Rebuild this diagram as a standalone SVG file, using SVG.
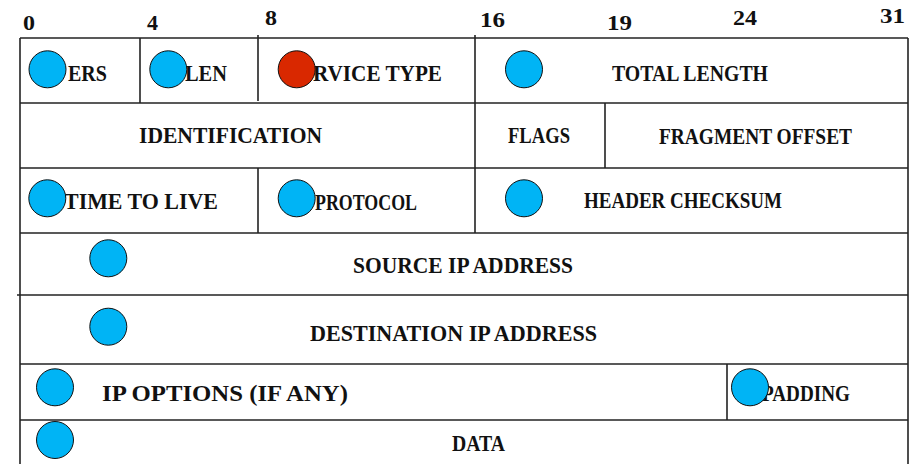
<svg xmlns="http://www.w3.org/2000/svg" width="909" height="464" viewBox="0 0 909 464">
<style>
  .grid line { stroke: #222; stroke-width: 1.6; }
  .lbl { font-family: "Liberation Serif", "Times New Roman", serif; font-weight: bold; font-size: 22.5px; fill: #111; }
  .bit { font-family: "Liberation Serif", "Times New Roman", serif; font-weight: bold; font-size: 22px; fill: #111; }
  .dot { fill: #00B4F5; stroke: #111; stroke-width: 1; }
  .dot.red { fill: #D92800; }
</style>
<rect width="909" height="464" fill="#fff"/>

<g id="bit-numbers">
  <text class="bit" x="23" y="30" textLength="12" lengthAdjust="spacingAndGlyphs">0</text>
  <text class="bit" x="147" y="30" textLength="11" lengthAdjust="spacingAndGlyphs">4</text>
  <text class="bit" x="265" y="25" textLength="12" lengthAdjust="spacingAndGlyphs">8</text>
  <text class="bit" x="480" y="27" textLength="25" lengthAdjust="spacingAndGlyphs">16</text>
  <text class="bit" x="607" y="30" textLength="25" lengthAdjust="spacingAndGlyphs">19</text>
  <text class="bit" x="733" y="25" textLength="24" lengthAdjust="spacingAndGlyphs">24</text>
  <text class="bit" x="880" y="23" textLength="25" lengthAdjust="spacingAndGlyphs">31</text>
</g>

<g class="grid" id="grid">
  <line x1="20" y1="38" x2="908" y2="38"/>
  <line x1="20" y1="103" x2="908" y2="103"/>
  <line x1="20" y1="168" x2="908" y2="168"/>
  <line x1="20" y1="233" x2="908" y2="233"/>
  <line x1="17" y1="295" x2="908" y2="295"/>
  <line x1="20" y1="364" x2="908" y2="364"/>
  <line x1="20" y1="420" x2="908" y2="420"/>
  <line x1="20" y1="38" x2="20" y2="464"/>
  <line x1="908" y1="38" x2="908" y2="464"/>
  <line x1="140" y1="38" x2="140" y2="103"/>
  <line x1="258" y1="35" x2="258" y2="101"/>
  <line x1="258" y1="168" x2="258" y2="233"/>
  <line x1="475" y1="35" x2="475" y2="233"/>
  <line x1="605" y1="103" x2="605" y2="168"/>
  <line x1="727" y1="364" x2="727" y2="420"/>
</g>

<g id="field-version">
  <text class="lbl" x="68" y="81" textLength="39" lengthAdjust="spacingAndGlyphs">ERS</text>
  <circle class="dot" cx="47.5" cy="69.3" r="18.5"/>
</g>
<g id="field-hlen">
  <text class="lbl" x="185" y="81" textLength="42" lengthAdjust="spacingAndGlyphs">LEN</text>
  <circle class="dot" cx="168.3" cy="69.3" r="18.5"/>
</g>
<g id="field-service-type">
  <text class="lbl" x="313" y="81" textLength="129" lengthAdjust="spacingAndGlyphs">RVICE TYPE</text>
  <circle class="dot red" cx="296.7" cy="69.3" r="18.5"/>
</g>
<g id="field-total-length">
  <text class="lbl" x="612" y="81" textLength="156" lengthAdjust="spacingAndGlyphs">TOTAL LENGTH</text>
  <circle class="dot" cx="524" cy="69.3" r="18.5"/>
</g>
<g id="field-identification">
  <text class="lbl" x="139" y="143" textLength="183" lengthAdjust="spacingAndGlyphs">IDENTIFICATION</text>
</g>
<g id="field-flags">
  <text class="lbl" x="508" y="143" textLength="62" lengthAdjust="spacingAndGlyphs">FLAGS</text>
</g>
<g id="field-fragment-offset">
  <text class="lbl" x="659" y="144" textLength="193" lengthAdjust="spacingAndGlyphs">FRAGMENT OFFSET</text>
</g>
<g id="field-ttl">
  <text class="lbl" x="64" y="209" textLength="154" lengthAdjust="spacingAndGlyphs">TIME TO LIVE</text>
  <circle class="dot" cx="47.3" cy="198.3" r="18.5"/>
</g>
<g id="field-protocol">
  <text class="lbl" x="315" y="210" textLength="102" lengthAdjust="spacingAndGlyphs">PROTOCOL</text>
  <circle class="dot" cx="296.7" cy="198.3" r="18.5"/>
</g>
<g id="field-header-checksum">
  <text class="lbl" x="584" y="208" textLength="198" lengthAdjust="spacingAndGlyphs">HEADER CHECKSUM</text>
  <circle class="dot" cx="524" cy="198.3" r="18.5"/>
</g>
<g id="field-source-ip">
  <text class="lbl" x="353" y="273" textLength="220" lengthAdjust="spacingAndGlyphs">SOURCE IP ADDRESS</text>
  <circle class="dot" cx="108.3" cy="258.3" r="18.5"/>
</g>
<g id="field-destination-ip">
  <text class="lbl" x="310" y="341" textLength="287" lengthAdjust="spacingAndGlyphs">DESTINATION IP ADDRESS</text>
  <circle class="dot" cx="108.3" cy="326.7" r="18.5"/>
</g>
<g id="field-ip-options">
  <text class="lbl" x="102" y="401" textLength="246" lengthAdjust="spacingAndGlyphs">IP OPTIONS (IF ANY)</text>
  <circle class="dot" cx="55" cy="387.3" r="18.5"/>
</g>
<g id="field-padding">
  <text class="lbl" x="762" y="401" textLength="88" lengthAdjust="spacingAndGlyphs">PADDING</text>
  <circle class="dot" cx="750" cy="387.3" r="18.5"/>
</g>
<g id="field-data">
  <text class="lbl" x="452" y="451" textLength="53" lengthAdjust="spacingAndGlyphs">DATA</text>
  <circle class="dot" cx="55" cy="440" r="18.5"/>
</g>
</svg>
